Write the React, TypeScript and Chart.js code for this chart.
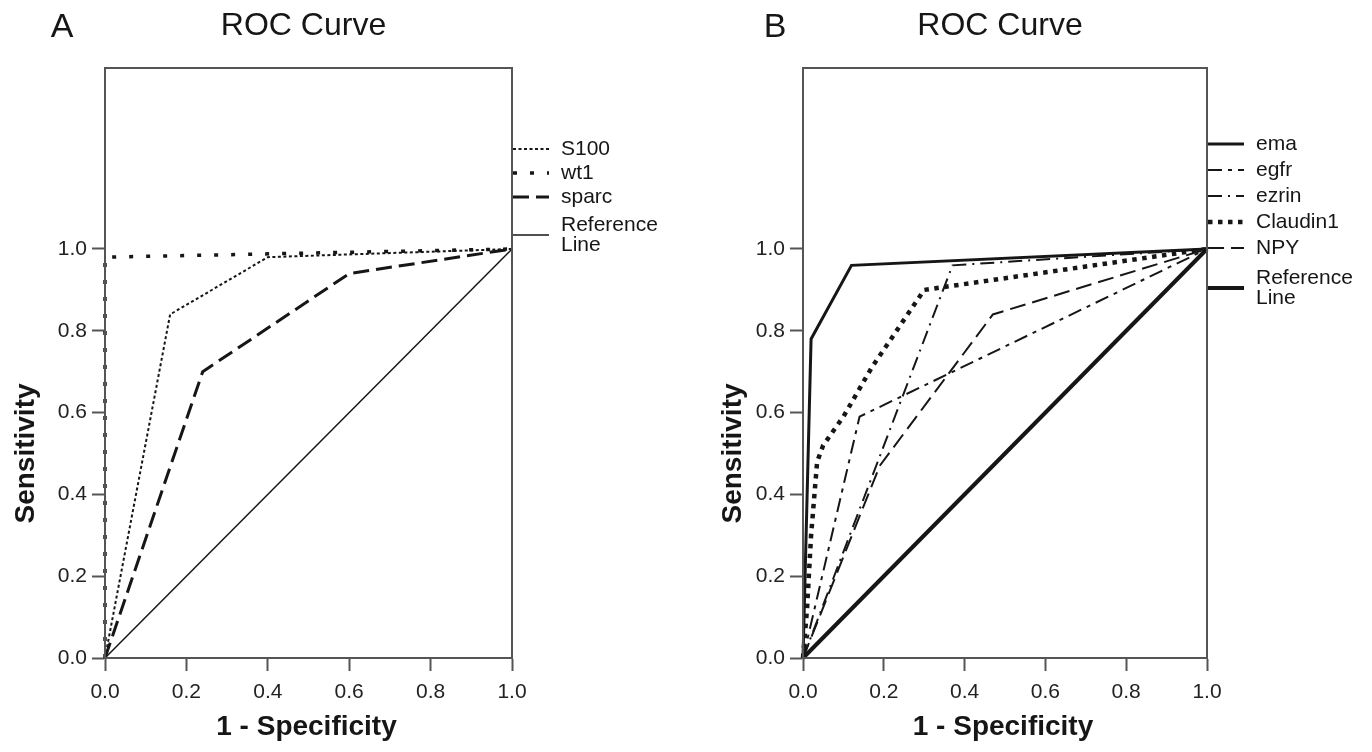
import React, { useEffect, useRef } from "react";
import { Chart, registerables } from "chart.js";

Chart.register(...registerables);

// ---------- data ----------
const xTickValues = [0, 0.2, 0.4, 0.6, 0.8, 1.0];
const yTickValues = [0, 0.2, 0.4, 0.6, 0.8, 1.0];

// Panel A
const s100Fpr = [0, 0.16, 0.4, 1.0];
const s100Sens = [0, 0.84, 0.98, 1.0];
const wt1Fpr = [0, 0, 1.0];
const wt1Sens = [0, 0.98, 1.0];
const sparcFpr = [0, 0.24, 0.6, 1.0];
const sparcSens = [0, 0.7, 0.94, 1.0];
const refAFpr = [0, 1.0];
const refASens = [0, 1.0];

// Panel B
const emaFpr = [0, 0.02, 0.12, 1.0];
const emaSens = [0, 0.78, 0.96, 1.0];
const egfrFpr = [0, 0.14, 1.0];
const egfrSens = [0, 0.59, 1.0];
const ezrinFpr = [0, 0.37, 1.0];
const ezrinSens = [0, 0.96, 1.0];
const claudinFpr = [0, 0.01, 0.02, 0.035, 0.05, 0.1, 0.17, 0.3, 1.0];
const claudinSens = [0, 0.12, 0.3, 0.48, 0.52, 0.59, 0.71, 0.9, 1.0];
const npyFpr = [0, 0.19, 0.47, 1.0];
const npySens = [0, 0.47, 0.84, 1.0];
const refBFpr = [0, 1.0];
const refBSens = [0, 1.0];

const FONT = '"Liberation Sans", Arial, Helvetica, sans-serif';
const INK = "#161616";
const AXIS = "#555555";
const W = 686;
const H = 752;
const Y_MAX = 1.4425;

type SeriesDef = {
  label: string[];
  fpr: number[];
  sens: number[];
  width: number;
  dash: number[];
};

function toDataset(s: SeriesDef) {
  return {
    label: s.label.join(" "),
    legendLines: s.label,
    data: s.fpr.map((x, i) => ({ x, y: s.sens[i] })),
    borderColor: INK,
    backgroundColor: INK,
    borderWidth: s.width,
    borderDash: s.dash,
    pointRadius: 0,
    tension: 0,
    fill: false,
    clip: 8,
  };
}

type PanelOpts = {
  letter: string;
  letterX: number;
  yTitleX: number;
  legendStart: number;
  legendStep: number;
};

function decorPlugin(o: PanelOpts) {
  return {
    id: "decor" + o.letter,
    afterDraw(chart: any) {
      const ctx: CanvasRenderingContext2D = chart.ctx;
      const { left, right, top, bottom } = chart.chartArea;
      ctx.save();
      // frame
      ctx.setLineDash([]);
      ctx.strokeStyle = AXIS;
      ctx.lineWidth = 2;
      ctx.strokeRect(left, top, right - left, bottom - top);

      ctx.fillStyle = INK;
      ctx.textAlign = "center";
      ctx.textBaseline = "middle";
      // title
      ctx.font = `32px ${FONT}`;
      ctx.fillText("ROC Curve", (left + right) / 2 - 5, 26);
      // panel letter
      ctx.font = `34px ${FONT}`;
      ctx.fillText(o.letter, o.letterX, 28);
      // axis titles
      ctx.font = `bold 28px ${FONT}`;
      ctx.fillText("1 - Specificity", (left + right) / 2 - 2, 727);
      const yMid = chart.scales.y.getPixelForValue(0.5);
      ctx.save();
      ctx.translate(o.yTitleX, yMid);
      ctx.rotate(-Math.PI / 2);
      ctx.fillText("Sensitivity", 0, 0);
      ctx.restore();

      // legend
      ctx.font = `21px ${FONT}`;
      ctx.textAlign = "left";
      let cursor = o.legendStart;
      const lineH = 20;
      chart.data.datasets.forEach((ds: any) => {
        const lines: string[] = ds.legendLines || [ds.label];
        if (lines.length > 1) cursor += 4;
        const cy = cursor + ((lines.length - 1) * lineH) / 2;
        ctx.strokeStyle = INK;
        ctx.lineWidth = ds.borderWidth;
        ctx.setLineDash(ds.borderDash || []);
        ctx.beginPath();
        ctx.moveTo(right + 1, cy);
        ctx.lineTo(right + 37, cy);
        ctx.stroke();
        ctx.setLineDash([]);
        ctx.fillStyle = INK;
        lines.forEach((t, i) => ctx.fillText(t, right + 49, cursor + i * lineH));
        cursor += o.legendStep + (lines.length - 1) * lineH;
      });
      ctx.restore();
    },
  };
}

function makeConfig(series: SeriesDef[], plotLeft: number, plotRight: number, o: PanelOpts) {
  const tickFont = { family: FONT, size: 21 };
  return {
    type: "line" as const,
    data: { datasets: series.map(toDataset) },
    options: {
      animation: false,
      responsive: false,
      devicePixelRatio: 1,
      layout: { padding: { left: 0, right: W - plotRight, top: 68, bottom: 0 } },
      plugins: { legend: { display: false }, tooltip: { enabled: false } },
      scales: {
        x: {
          type: "linear",
          min: 0,
          max: 1,
          afterFit: (s: any) => {
            s.height = H - 658;
          },
          afterBuildTicks: (s: any) => {
            s.ticks = xTickValues.map((v) => ({ value: v }));
          },
          ticks: {
            font: tickFont,
            color: "#222",
            padding: 9,
            maxRotation: 0,
            callback: (v: any) => Number(v).toFixed(1),
          },
          grid: { drawOnChartArea: false, tickLength: 13, tickWidth: 2, tickColor: AXIS },
          border: { display: true, color: AXIS, width: 2 },
        },
        y: {
          type: "linear",
          min: 0,
          max: Y_MAX,
          afterFit: (s: any) => {
            s.width = plotLeft;
          },
          afterBuildTicks: (s: any) => {
            s.ticks = yTickValues.map((v) => ({ value: v }));
          },
          ticks: {
            font: tickFont,
            color: "#222",
            padding: 5,
            callback: (v: any) => Number(v).toFixed(1),
          },
          grid: { drawOnChartArea: false, tickLength: 13, tickWidth: 2, tickColor: AXIS },
          border: { display: true, color: AXIS, width: 2 },
        },
      },
    },
    plugins: [decorPlugin(o)],
  };
}

const seriesA: SeriesDef[] = [
  { label: ["S100"], fpr: s100Fpr, sens: s100Sens, width: 2, dash: [3, 2.5] },
  { label: ["wt1"], fpr: wt1Fpr, sens: wt1Sens, width: 3.5, dash: [4, 13] },
  { label: ["sparc"], fpr: sparcFpr, sens: sparcSens, width: 3, dash: [16, 7] },
  { label: ["Reference", "Line"], fpr: refAFpr, sens: refASens, width: 1.5, dash: [] },
];

const seriesB: SeriesDef[] = [
  { label: ["ema"], fpr: emaFpr, sens: emaSens, width: 3, dash: [] },
  { label: ["egfr"], fpr: egfrFpr, sens: egfrSens, width: 2, dash: [14, 6, 4, 6] },
  { label: ["ezrin"], fpr: ezrinFpr, sens: ezrinSens, width: 2, dash: [14, 6, 2, 6] },
  { label: ["Claudin1"], fpr: claudinFpr, sens: claudinSens, width: 4.5, dash: [4.5, 5.5] },
  { label: ["NPY"], fpr: npyFpr, sens: npySens, width: 2, dash: [16, 7] },
  { label: ["Reference", "Line"], fpr: refBFpr, sens: refBSens, width: 4, dash: [] },
];

function Panel(props: { series: SeriesDef[]; plotLeft: number; plotRight: number; opts: PanelOpts; x: number }) {
  const ref = useRef<HTMLCanvasElement | null>(null);
  useEffect(() => {
    if (!ref.current) return;
    const chart = new Chart(
      ref.current,
      makeConfig(props.series, props.plotLeft, props.plotRight, props.opts) as any
    );
    return () => chart.destroy();
  }, []);
  return (
    <canvas
      ref={ref}
      width={W}
      height={H}
      style={{ position: "absolute", left: props.x, top: 0, width: W, height: H }}
    />
  );
}

export default function App() {
  return (
    <div style={{ position: "absolute", left: 0, top: 0, width: 1372, height: 752, background: "#fff" }}>
      <Panel
        series={seriesA}
        plotLeft={105}
        plotRight={512}
        x={0}
        opts={{ letter: "A", letterX: 62, yTitleX: 26, legendStart: 149, legendStep: 24 }}
      />
      <Panel
        series={seriesB}
        plotLeft={117}
        plotRight={521}
        x={686}
        opts={{ letter: "B", letterX: 89, yTitleX: 47, legendStart: 144, legendStep: 26 }}
      />
    </div>
  );
}
